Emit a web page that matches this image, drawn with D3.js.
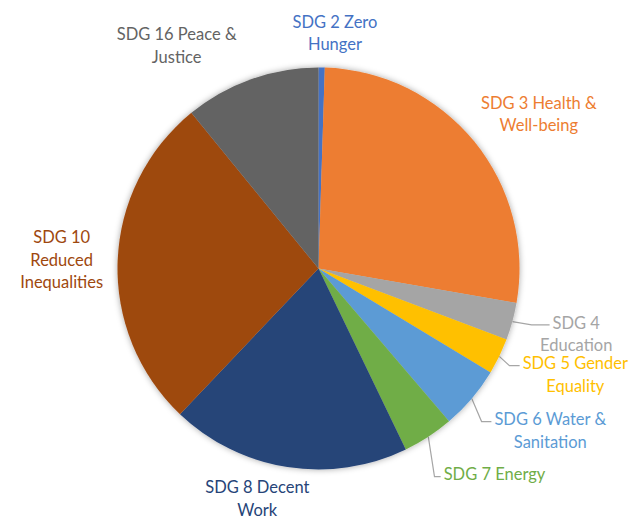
<!DOCTYPE html>
<html>
<head>
<meta charset="utf-8">
<script src="https://cdn.jsdelivr.net/npm/d3@7"></script>
<style>
  body { margin: 0; background: #fff; }
  svg text { font-family: Lato, "Open Sans", sans-serif; font-size: 16.5px; }
</style>
</head>
<body>
<svg id="chart" width="630" height="520"></svg>
<script>
'use strict';

// data (share of total, %)
var categories = ['SDG 2 Zero Hunger', 'SDG 3 Health & Well-being', 'SDG 4 Education',
    'SDG 5 Gender Equality', 'SDG 6 Water & Sanitation', 'SDG 7 Energy',
    'SDG 8 Decent Work', 'SDG 10 Reduced Inequalities', 'SDG 16 Peace & Justice'];
var values = [0.5, 27.25, 3.0, 2.9, 5.1, 4.1, 19.25, 27.0, 10.9];
// how each label wraps
var labelLines = [
    ['SDG 2 Zero', 'Hunger'],
    ['SDG 3 Health &', 'Well-being'],
    ['SDG 4', 'Education'],
    ['SDG 5 Gender', 'Equality'],
    ['SDG 6 Water &', 'Sanitation'],
    ['SDG 7 Energy'],
    ['SDG 8 Decent', 'Work'],
    ['SDG 10', 'Reduced', 'Inequalities'],
    ['SDG 16 Peace &', 'Justice']
];
var colors = ['#4472C4', '#ED7D31', '#A5A5A5', '#FFC000', '#5B9BD5',
    '#70AD47', '#264478', '#9E480E', '#636363'];

// label placement: polar position around the pie (deg clockwise from top, radius)
var labelPolar = [[4, 236], [55, 269], [104.3, 266], [112.5, 278], [125, 283],
    [139.5, 271], [194.9, 238], [271.9, 257], [327.5, 264]];
// which labels get a leader line
var hasLeader = [false, false, true, true, true, true, false, false, false];

var cx = 318.5, cy = 268.5, radius = 201, lineH = 22.5;

var svg = d3.select('#chart');

var defs = svg.append('defs');
var filter = defs.append('filter').attr('id', 'glow')
    .attr('x', '-20%').attr('y', '-20%').attr('width', '140%').attr('height', '140%');
filter.append('feDropShadow')
    .attr('dx', 0).attr('dy', 0).attr('stdDeviation', 3)
    .attr('flood-color', '#000').attr('flood-opacity', 0.35);

var data = categories.map(function (c, i) {
    return { name: c, value: values[i], idx: i };
});

var pie = d3.pie().sort(null).value(function (d) { return d.value; });
var arcs = pie(data);
var arc = d3.arc().innerRadius(0).outerRadius(radius);

var g = svg.append('g').attr('transform', 'translate(' + cx + ',' + cy + ')');

g.append('g').attr('filter', 'url(#glow)')
    .selectAll('path')
    .data(arcs)
    .enter().append('path')
    .attr('d', arc)
    .attr('fill', function (d) { return colors[d.data.idx]; });

var polar = function (deg, r) {
    var a = deg * Math.PI / 180;
    return [r * Math.sin(a), -r * Math.cos(a)];
};

var labels = g.append('g');
arcs.forEach(function (d) {
    var i = d.data.idx;
    var p = polar(labelPolar[i][0], labelPolar[i][1]);
    var lines = labelLines[i];
    var top = p[1] - (lines.length - 1) * lineH / 2;
    var t = labels.append('text')
        .attr('text-anchor', 'middle')
        .attr('fill', colors[i]);
    lines.forEach(function (ln, k) {
        t.append('tspan').attr('x', p[0]).attr('y', top + k * lineH)
            .attr('dy', '0.35em').text(ln);
    });

    if (hasLeader[i]) {
        var firstW = t.select('tspan').node().getComputedTextLength();
        var endX = p[0] - firstW / 2 - 3;
        var endY = top + 2;
        var mid = (d.startAngle + d.endAngle) / 2;
        var sx = radius * Math.sin(mid), sy = -radius * Math.cos(mid);
        var elbowX = endX - Math.min(18, Math.max(4, (endX - sx) * 0.5));
        g.insert('path', ':first-child')
            .attr('d', 'M' + sx + ',' + sy + 'L' + elbowX + ',' + endY + 'L' + endX + ',' + endY)
            .attr('fill', 'none')
            .attr('stroke', '#A6A6A6')
            .attr('stroke-width', 1.2);
    }
});
</script>
</body>
</html>
